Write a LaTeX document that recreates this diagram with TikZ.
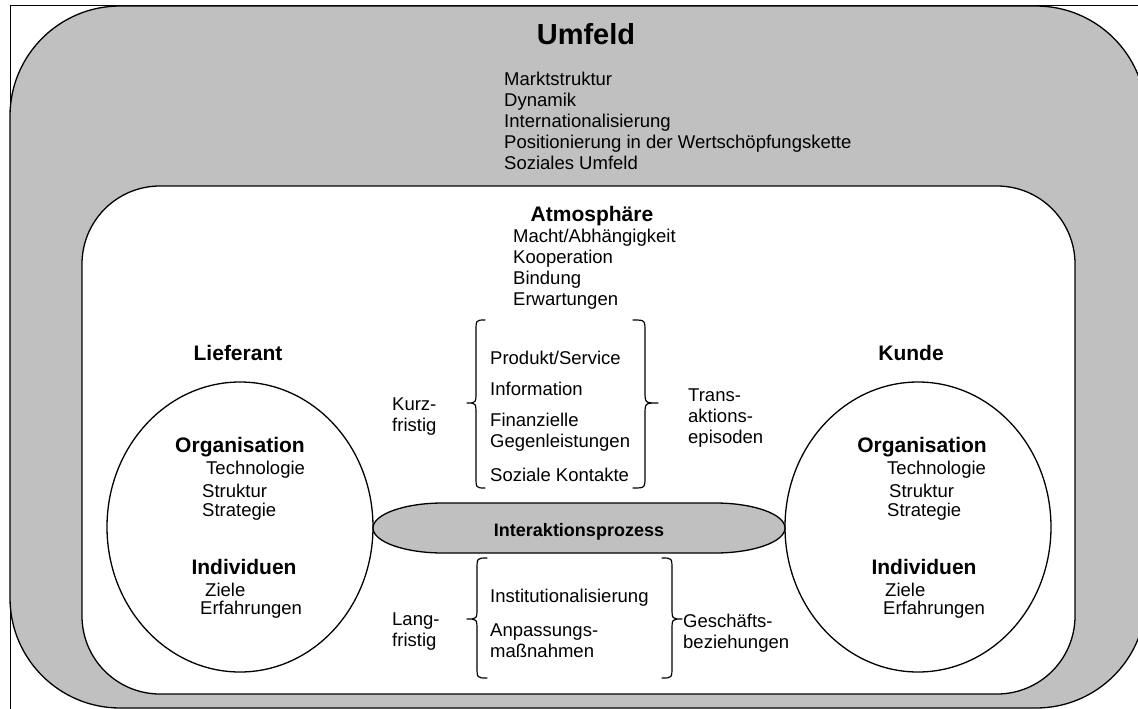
\documentclass[tikz,border=0pt]{standalone}
\usepackage{fontspec}
\setmainfont{Liberation Sans}
\usetikzlibrary{shapes.geometric}
\definecolor{umfeldgray}{HTML}{C0C0C0}
\tikzset{
  body/.style={font=\fontsize{18.5}{21}\selectfont, align=left, inner sep=0pt, anchor=west},
  head/.style={font=\fontsize{21}{24}\selectfont\bfseries, inner sep=0pt},
  outline/.style={line width=1.3pt},
  bracepath/.style={line width=1.2pt, line join=round, line cap=round},
  party/.style={ellipse, draw, line width=1.3pt, minimum width=266pt, minimum height=290pt, inner sep=0pt},
}
\begin{document}
\begin{tikzpicture}[x=1pt,y=-1pt]
\useasboundingbox (0,0) rectangle (1138,709);
\clip (0,0) rectangle (1138,709);
\fill[white] (0,0) rectangle (1138,709);
% frame
\draw[line width=1pt] (10,6) rectangle (1170,740);
% Umfeld band
\draw[outline, fill=umfeldgray, rounded corners=110pt] (10,6) rectangle (1146,708);
% inner area
\draw[outline, fill=white, rounded corners=78pt] (82,186) rectangle (1075,694);

% parties
\node[party] (lief) at (240,527) {};
\node[party] (kunde) at (918,527) {};

% Interaktionsprozess capsule
\draw[outline, fill=umfeldgray] (443,503) -- (715,503)
  arc[start angle=-90, end angle=90, x radius=70, y radius=25]
  -- (443,553)
  arc[start angle=90, end angle=270, x radius=70, y radius=25] -- cycle;
\node[font=\fontsize{18}{20}\selectfont\bfseries, inner sep=0pt] (ip) at (579,532) {Interaktionsprozess};

% braces upper
\draw[bracepath] (485,320) .. controls (476,320) .. (476,332) -- (476,391)
  .. controls (476,403) .. (467,403) .. controls (476,403) .. (476,415)
  -- (476,476) .. controls (476,488) .. (485,488);
\draw[bracepath] (633,320) .. controls (645,320) .. (645,332) -- (645,391)
  .. controls (645,403) .. (658,403) .. controls (645,403) .. (645,415)
  -- (645,476) .. controls (645,488) .. (633,488);
% braces lower
\draw[bracepath] (487,558) .. controls (477,558) .. (477,570) -- (477,607)
  .. controls (477,619) .. (467,619) .. controls (477,619) .. (477,631)
  -- (477,666) .. controls (477,678) .. (487,678);
\draw[bracepath] (662,558) .. controls (672,558) .. (672,570) -- (672,607)
  .. controls (672,619) .. (682,619) .. controls (672,619) .. (672,631)
  -- (672,666) .. controls (672,678) .. (662,678);

% Umfeld texts
\node[head, font=\fontsize{29}{33}\selectfont\bfseries] (umfeld) at (586,34) {Umfeld};
\node[body] (umfeldlist) at (504,120.5) {Marktstruktur\\Dynamik\\Internationalisierung\\Positionierung in der Wertschöpfungskette\\Soziales Umfeld};

% Atmosphaere
\node[head] (atmo) at (592,216) {Atmosphäre};
\node[body] (atmolist) at (513,269.5) {Macht/Abhängigkeit\\Kooperation\\Bindung\\Erwartungen};

% headings
\node[head] (lieftitle) at (238,353) {Lieferant};
\node[head] (kundetitle) at (911,353) {Kunde};

% left party
\node[head] (lorg) at (240,447) {Organisation};
\node[body] (ltech) at (206,470) {Technologie};
\node[body] (lstru) at (202,491) {Struktur};
\node[body] (lstra) at (202,512) {Strategie};
\node[head] (lind) at (244,567) {Individuen};
\node[body] (lziel) at (205,590) {Ziele};
\node[body] (lerf) at (200,610) {Erfahrungen};

% right party
\node[head] (rorg) at (922,447) {Organisation};
\node[body] (rtech) at (887,470) {Technologie};
\node[body] (rstru) at (889,491) {Struktur};
\node[body] (rstra) at (887,512) {Strategie};
\node[head] (rind) at (924,567) {Individuen};
\node[body] (rziel) at (885,590) {Ziele};
\node[body] (rerf) at (883,610) {Erfahrungen};

% transaction episodes
\node[body] (kurz) at (392,417) {Kurz-\\fristig};
\node[body] (prod) at (490,358) {Produkt/Service};
\node[body] (info) at (490,389) {Information};
\node[body] (fin) at (490,432) {Finanzielle\\Gegenleistungen};
\node[body] (soz) at (490,475) {Soziale Kontakte};
\node[body] (trans) at (688,418) {Trans-\\aktions-\\episoden};

% business relations
\node[body] (lang) at (392,631.5) {Lang-\\fristig};
\node[body] (inst) at (490,598) {Institutionalisierung};
\node[body] (anp) at (490,641) {Anpassungs-\\maßnahmen};
\node[body] (gesch) at (683,633) {Geschäfts-\\beziehungen};
\end{tikzpicture}
\end{document}
